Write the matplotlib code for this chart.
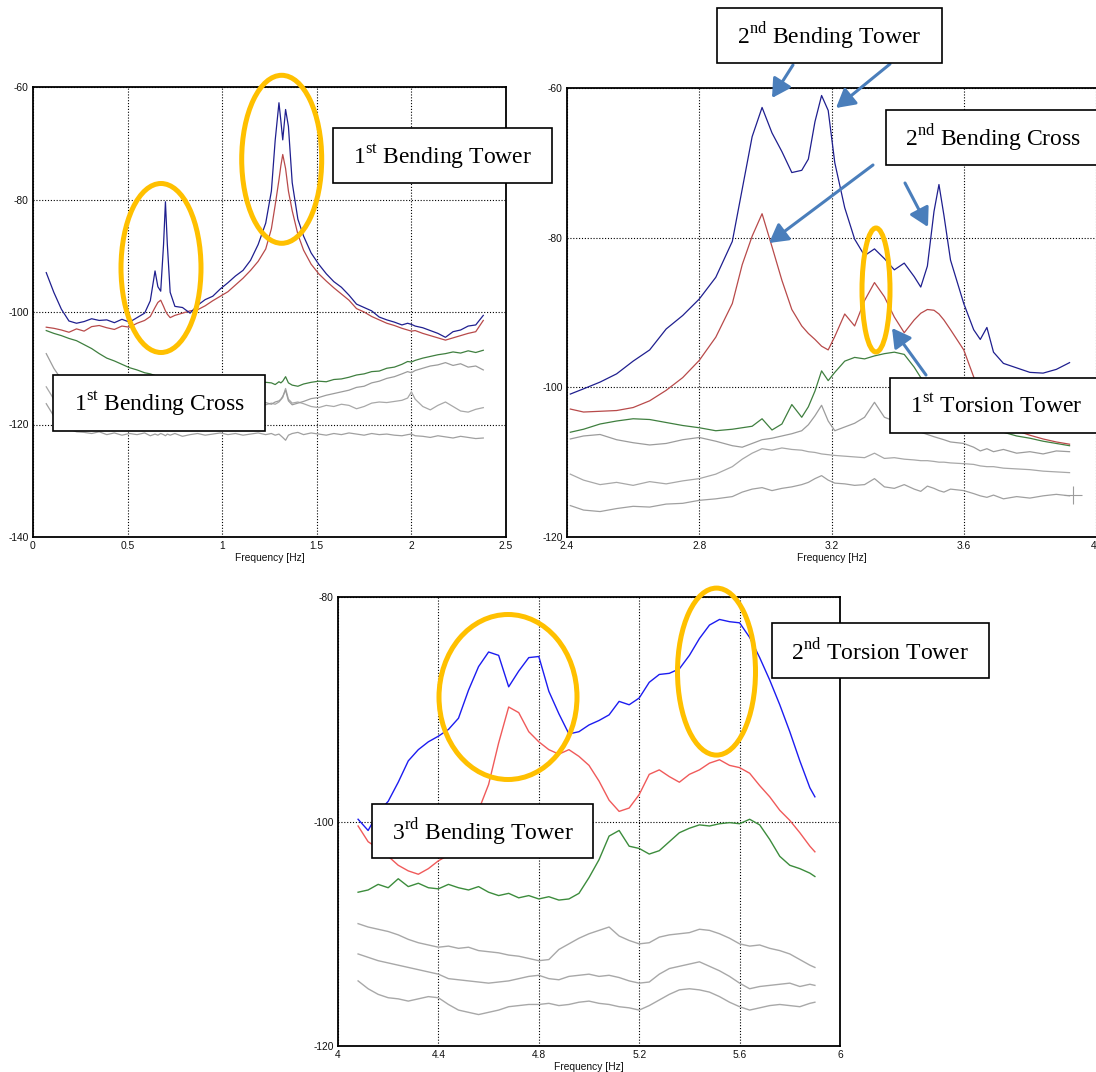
import matplotlib
matplotlib.use("Agg")
import matplotlib.pyplot as plt
from matplotlib.patches import Ellipse, Rectangle, FancyArrowPatch

plt.rcParams['font.family'] = ['Liberation Sans', 'DejaVu Sans']
plt.rcParams['mathtext.fontset'] = 'custom'
plt.rcParams['mathtext.rm'] = 'Liberation Serif'

# ---------------- panel 1 : 0 - 2.5 Hz ----------------
x1 = [0.07, 0.11, 0.15, 0.19, 0.23, 0.27, 0.31, 0.35, 0.39, 0.43,
      0.47, 0.51, 0.55, 0.59, 0.62, 0.645, 0.66, 0.675, 0.69, 0.70,
      0.71, 0.725, 0.75, 0.79, 0.83, 0.87, 0.91, 0.95, 0.99, 1.03,
      1.07, 1.11, 1.15, 1.19, 1.23, 1.26, 1.28, 1.30, 1.31, 1.32,
      1.335, 1.35, 1.37, 1.40, 1.43, 1.47, 1.51, 1.55, 1.59, 1.63,
      1.67, 1.71, 1.75, 1.79, 1.83, 1.87, 1.91, 1.95, 1.98, 2.00,
      2.02, 2.06, 2.10, 2.14, 2.18, 2.22, 2.26, 2.30, 2.34, 2.38]
blue1 = [-93.0, -96.5, -99.5, -101.6, -102.0, -101.7, -101.2, -101.5, -101.4, -101.9,
         -101.3, -101.8, -101.0, -100.2, -98.0, -92.7, -95.5, -96.3, -88.0, -80.4,
         -88.0, -96.5, -99.0, -99.2, -100.2, -98.8, -97.8, -97.2, -95.9, -94.8,
         -93.6, -92.6, -90.8, -88.0, -84.2, -78.5, -69.5, -62.8, -66.0, -69.4,
         -64.0, -67.0, -77.0, -83.5, -86.5, -89.5, -91.5, -93.2, -94.6, -95.6,
         -97.0, -98.6, -99.2, -99.8, -100.9, -101.4, -101.8, -102.3, -102.0, -102.2,
         -102.5, -102.8, -103.3, -103.8, -104.5, -103.5, -103.2, -102.5, -102.3, -100.6]
red1 = [-102.7, -102.9, -103.2, -103.6, -103.0, -103.4, -102.6, -102.4, -102.8, -103.1,
        -102.5, -102.7, -102.0, -101.5, -100.8, -99.2, -98.3, -97.9, -99.0, -99.8,
        -100.4, -101.0, -100.6, -100.2, -99.8, -99.6, -98.9, -98.0, -97.2, -96.4,
        -95.2, -94.0, -92.6, -91.0, -88.8, -85.2, -81.0, -76.5, -74.0, -72.0,
        -74.5, -78.5, -82.0, -86.2, -89.0, -91.5, -93.2, -94.5, -95.7, -96.8,
        -97.9, -99.4, -100.0, -100.8, -101.4, -102.0, -102.4, -102.9, -103.2, -103.4,
        -103.3, -103.8, -104.2, -104.6, -105.0, -104.6, -104.2, -103.8, -103.5, -101.5]
green1 = [-103.3, -103.8, -104.2, -104.7, -105.1, -105.8, -106.5, -107.4, -108.2, -108.7,
          -109.3, -109.9, -110.3, -110.8, -111.0, -111.3, -111.6, -111.4, -111.8, -111.9,
          -111.7, -112.0, -112.3, -112.4, -112.6, -112.5, -112.8, -112.7, -112.9, -112.8,
          -113.0, -112.8, -113.1, -112.7, -112.5, -112.6, -112.9, -112.4, -112.6, -112.3,
          -111.5, -112.6, -113.0, -113.2, -112.8, -112.5, -112.3, -112.4, -112.0, -111.9,
          -111.6, -111.2, -111.0, -110.6, -110.5, -110.0, -109.8, -109.3, -108.8, -108.9,
          -108.6, -108.2, -107.9, -107.6, -107.4, -107.1, -107.3, -106.9, -107.2, -106.8]
grey1a = [-107.4, -110.0, -112.0, -113.2, -113.8, -114.3, -114.8, -115.0, -115.3, -115.5,
          -115.8, -116.0, -116.2, -116.1, -116.3, -116.2, -116.4, -116.0, -116.3, -116.5,
          -116.2, -116.4, -116.6, -116.3, -116.5, -116.2, -116.4, -116.1, -116.3, -116.5,
          -116.2, -116.0, -116.3, -115.9, -116.1, -116.4, -116.0, -115.8, -115.5, -115.0,
          -113.9, -115.8, -116.5, -116.2, -115.9, -115.4, -115.2, -114.8, -114.5, -114.2,
          -113.9, -113.4, -113.2, -112.6, -112.3, -111.8, -111.5, -111.0, -110.6, -110.8,
          -110.4, -110.0, -109.6, -109.4, -109.0, -109.5, -109.2, -109.8, -109.6, -110.3]
grey1b = [-113.3, -115.5, -116.5, -116.8, -117.0, -116.7, -116.9, -117.1, -116.8, -117.0,
          -116.9, -117.2, -116.8, -117.0, -116.9, -117.1, -116.8, -116.9, -117.0, -116.8,
          -117.1, -116.9, -117.0, -116.8, -117.0, -116.7, -116.9, -116.6, -116.8, -116.5,
          -116.7, -116.4, -116.6, -116.3, -116.5, -116.2, -116.4, -116.0, -115.6, -115.2,
          -113.6, -115.5, -116.2, -116.0, -116.3, -116.8, -117.0, -116.6, -116.8, -116.4,
          -116.6, -117.2, -116.8, -116.2, -116.0, -116.1, -115.9, -115.7, -115.3, -114.2,
          -115.5, -116.8, -117.4, -116.6, -116.0, -116.8, -117.6, -117.8, -117.3, -117.0]
grey1c = [-116.3, -118.5, -119.9, -120.8, -121.3, -121.4, -121.6, -121.3, -121.8, -121.5,
          -121.9, -121.6, -121.8, -121.5, -122.0, -121.7, -121.9, -121.6, -121.8, -122.0,
          -121.7, -121.9, -121.6, -122.1, -121.8, -121.6, -121.9, -121.7, -121.5, -121.8,
          -121.6, -121.9, -121.7, -121.5, -121.8, -121.6, -121.9, -121.7, -122.0, -122.3,
          -122.8, -121.9, -121.6, -121.4, -121.8, -121.5, -121.7, -121.9, -121.6, -121.8,
          -121.5, -121.7, -121.9, -121.6, -121.8, -121.7, -121.9, -122.0, -121.8, -121.7,
          -122.0, -122.1, -122.3, -122.0, -122.2, -122.4, -122.1, -122.3, -122.5, -122.4]

# ---------------- panel 2 : 2.4 - 4 Hz ----------------
x2 = [2.41, 2.45, 2.50, 2.55, 2.60, 2.65, 2.70, 2.75, 2.80, 2.85,
      2.90, 2.93, 2.96, 2.99, 3.02, 3.05, 3.08, 3.11, 3.13, 3.15,
      3.17, 3.19, 3.21, 3.24, 3.27, 3.30, 3.33, 3.36, 3.39, 3.42,
      3.45, 3.47, 3.49, 3.51, 3.525, 3.54, 3.56, 3.60, 3.63, 3.65,
      3.67, 3.69, 3.72, 3.76, 3.80, 3.84, 3.88, 3.92]
blue2 = [-100.9, -100.2, -99.3, -98.2, -96.5, -95.0, -92.2, -90.4, -88.2, -85.3,
         -80.5, -73.5, -66.5, -62.6, -66.0, -68.5, -71.3, -71.0, -69.5, -64.5,
         -61.0, -63.0, -70.0, -76.0, -80.2, -82.4, -81.5, -82.8, -84.3, -83.4,
         -85.2, -86.6, -83.8, -76.5, -72.9, -77.0, -83.0, -88.8, -92.3, -93.6,
         -92.0, -95.3, -96.8, -97.4, -98.0, -98.1, -97.6, -96.7]
red2 = [-102.9, -103.3, -103.2, -103.1, -102.7, -101.8, -100.4, -98.7, -96.4, -93.3,
        -88.8, -83.6, -79.8, -76.8, -81.2, -85.7, -89.6, -91.8, -92.8, -93.6,
        -94.5, -95.0, -93.2, -90.2, -91.8, -88.4, -86.0, -87.9, -90.6, -92.7,
        -91.0, -90.1, -89.6, -89.7, -90.2, -91.0, -92.3, -95.0, -98.6, -101.0,
        -102.8, -104.0, -105.0, -105.8, -106.4, -106.9, -107.3, -107.6]
green2 = [-106.0, -105.6, -104.9, -104.5, -104.2, -104.3, -104.7, -105.1, -105.4, -105.8,
          -105.6, -105.4, -105.2, -104.2, -105.7, -104.9, -102.3, -104.0, -102.6, -100.5,
          -97.8, -99.1, -98.0, -96.5, -96.0, -96.2, -95.8, -95.5, -95.3, -95.6,
          -97.3, -98.7, -99.5, -100.5, -101.0, -101.5, -102.0, -103.0, -104.0, -104.5,
          -105.0, -105.5, -106.0, -106.5, -106.8, -107.2, -107.5, -107.8]
grey2a = [-106.9, -106.5, -106.3, -107.0, -107.4, -107.7, -107.5, -107.0, -106.7, -107.2,
          -107.8, -108.0, -107.5, -107.0, -106.8, -106.5, -106.2, -105.8, -105.0, -103.8,
          -102.4, -104.5, -105.8, -105.3, -104.8, -104.0, -102.0, -104.0, -104.5, -105.0,
          -105.5, -106.0, -106.3, -106.6, -106.8, -107.0, -107.3, -107.5, -108.0, -108.5,
          -108.2, -108.6, -108.3, -108.8, -108.6, -108.9, -108.5, -108.6]
grey2b = [-111.6, -112.4, -113.0, -112.7, -113.1, -112.6, -112.9, -112.5, -112.2, -111.6,
          -110.6, -109.6, -108.8, -108.2, -108.4, -108.1, -108.3, -108.4, -108.6, -108.7,
          -108.9, -109.0, -109.1, -109.2, -109.3, -109.4, -108.8, -109.5, -109.4, -109.6,
          -109.7, -109.8, -109.8, -109.9, -110.0, -110.0, -110.1, -110.2, -110.3, -110.5,
          -110.6, -110.6, -110.8, -110.9, -111.0, -111.2, -111.3, -111.4]
grey2c = [-115.8, -116.4, -116.6, -116.2, -115.9, -116.0, -115.6, -115.5, -115.1, -114.9,
          -114.6, -114.0, -113.6, -113.4, -113.8, -113.5, -113.3, -113.0, -112.7, -112.2,
          -111.8, -112.4, -112.8, -112.9, -113.1, -113.0, -112.2, -113.3, -113.5, -113.0,
          -113.6, -113.9, -113.2, -113.5, -113.8, -114.0, -113.6, -113.8, -114.2, -114.5,
          -114.7, -114.4, -114.9, -114.6, -114.8, -114.5, -114.3, -114.5]
cursor2 = (3.93, -114.4)

# ---------------- panel 3 : 4 - 6 Hz ----------------
x3 = [4.08, 4.12, 4.16, 4.20, 4.24, 4.28, 4.32, 4.36, 4.40, 4.44,
      4.48, 4.52, 4.56, 4.60, 4.64, 4.68, 4.72, 4.76, 4.80, 4.84,
      4.88, 4.92, 4.96, 5.00, 5.04, 5.08, 5.12, 5.16, 5.20, 5.24,
      5.28, 5.32, 5.36, 5.40, 5.44, 5.48, 5.52, 5.56, 5.60, 5.64,
      5.68, 5.72, 5.76, 5.80, 5.84, 5.88, 5.90]
blue3 = [-99.8, -100.8, -99.2, -98.2, -96.5, -94.6, -93.6, -92.9, -92.4, -91.8,
         -90.8, -88.3, -86.2, -84.9, -85.2, -88.0, -86.6, -85.4, -85.3, -88.4,
         -90.4, -92.2, -92.0, -91.4, -91.0, -90.5, -89.3, -89.6, -89.0, -87.6,
         -86.9, -86.8, -86.4, -85.2, -83.7, -82.5, -82.0, -82.2, -82.3, -83.6,
         -85.4, -87.4, -89.6, -92.0, -94.6, -97.0, -97.8]
red3 = [-100.4, -101.8, -102.4, -103.1, -103.9, -104.4, -104.7, -104.2, -103.5, -103.0,
        -102.2, -100.8, -99.0, -96.7, -93.0, -89.8, -90.3, -92.0, -92.9, -93.6,
        -94.0, -93.6, -94.2, -95.0, -96.4, -98.1, -99.1, -98.8, -97.6, -95.8,
        -95.4, -96.0, -96.5, -95.8, -95.4, -94.8, -94.5, -95.0, -95.2, -95.7,
        -96.8, -97.8, -99.0, -99.9, -101.0, -102.2, -102.7]
green3 = [-106.3, -106.1, -105.6, -105.9, -105.1, -105.8, -105.5, -105.9, -106.0, -105.6,
          -105.9, -106.1, -105.8, -106.3, -106.6, -106.4, -106.8, -106.6, -106.9, -106.7,
          -107.0, -106.9, -106.4, -105.0, -103.4, -101.3, -100.8, -102.2, -102.4, -102.9,
          -102.6, -101.8, -101.0, -100.6, -100.3, -100.4, -100.2, -100.1, -100.2, -99.8,
          -100.3, -101.6, -103.1, -103.9, -104.2, -104.6, -104.9]
grey3a = [-109.1, -109.4, -109.6, -109.8, -110.1, -110.5, -110.8, -111.0, -111.2, -111.1,
          -111.3, -111.2, -111.5, -111.6, -111.7, -111.9, -112.0, -112.2, -112.4, -112.3,
          -111.4, -110.9, -110.4, -110.0, -109.7, -109.4, -110.2, -110.6, -110.9, -110.8,
          -110.3, -110.1, -110.0, -109.9, -109.6, -109.7, -110.0, -110.4, -110.9, -111.1,
          -111.0, -111.3, -111.5, -111.8, -112.3, -112.8, -113.0]
grey3b = [-111.8, -112.1, -112.4, -112.6, -112.8, -113.0, -113.2, -113.4, -113.6, -114.0,
          -114.1, -114.2, -114.3, -114.4, -114.3, -114.2, -114.0, -113.8, -113.7, -114.0,
          -114.1, -113.8, -113.7, -113.6, -113.8, -113.7, -113.9, -114.2, -114.4, -114.3,
          -113.6, -113.1, -112.9, -112.7, -112.5, -112.9, -113.3, -113.8, -114.4, -114.9,
          -114.7, -114.6, -114.5, -114.4, -114.7, -114.5, -114.6]
grey3c = [-114.2, -114.9, -115.4, -115.7, -115.8, -116.0, -115.8, -115.6, -115.7, -116.3,
          -116.8, -117.0, -117.2, -117.0, -116.8, -116.5, -116.4, -116.3, -116.3, -116.2,
          -116.4, -116.3, -116.1, -116.0, -116.2, -116.3, -116.5, -116.6, -116.8, -116.4,
          -115.9, -115.4, -115.0, -114.9, -115.0, -115.2, -115.6, -116.1, -116.5, -116.8,
          -116.6, -116.4, -116.3, -116.4, -116.5, -116.2, -116.1]

# tick labels
xt1 = [0, 0.5, 1, 1.5, 2, 2.5]
xt1_lab = ["0", "0.5", "1", "1.5", "2", "2.5"]
yt1 = [-140, -120, -100, -80, -60]
xt2 = [2.4, 2.8, 3.2, 3.6, 4.0]
xt2_lab = ["2.4", "2.8", "3.2", "3.6", "4"]
yt2 = [-120, -100, -80, -60]
xt3 = [4, 4.4, 4.8, 5.2, 5.6, 6]
xt3_lab = ["4", "4.4", "4.8", "5.2", "5.6", "6"]
yt3 = [-120, -100, -80]

W, H = 1096, 1072
fig = plt.figure(figsize=(W / 100, H / 100), dpi=100)


def panel(px_left, px_top, px_right, px_bottom):
    return fig.add_axes([px_left / W, 1 - px_bottom / H,
                         (px_right - px_left) / W, (px_bottom - px_top) / H])


def style(ax, xt, xlab, yt, xlim, ylim):
    ax.set_xlim(*xlim)
    ax.set_ylim(*ylim)
    ax.set_xticks(xt)
    ax.set_xticklabels(xlab)
    ax.set_yticks(yt)
    ax.set_yticklabels([str(v) for v in yt])
    ax.grid(True, color='black', linestyle=(0, (1, 1.6)), linewidth=0.8)
    ax.set_axisbelow(True)
    ax.tick_params(length=0, labelsize=7.4, pad=3, colors='#111111')
    for sp in ax.spines.values():
        sp.set_linewidth(1.3)
    ax.set_xlabel("Frequency [Hz]", fontsize=7.4, labelpad=1, color='#111111')


top_cols = ['#1f1f8f', '#b84a4a', '#3f7f3f', '#9c9c9c', '#a8a8a8', '#a0a0a0']
bot_cols = ['#1c1cf0', '#f05a5a', '#3c8c3c', '#a8a8a8', '#a8a8a8', '#a8a8a8']

ax1 = panel(33, 87, 506, 537)
for y, c in zip([grey1c, grey1b, grey1a, green1, red1, blue1], top_cols[::-1]):
    ax1.plot(x1, y, color=c, lw=0.9)
style(ax1, xt1, xt1_lab, yt1, (0, 2.5), (-140, -60))

ax2 = panel(567, 88, 1096, 537)
for y, c in zip([grey2c, grey2b, grey2a, green2, red2, blue2], top_cols[::-1]):
    ax2.plot(x2, y, color=c, lw=0.9)
ax2.plot(*cursor2, marker='+', ms=13, mew=0.8, color='#9c9c9c')
style(ax2, xt2, xt2_lab, yt2, (2.4, 4.0), (-120, -60))
ax2.spines['right'].set_visible(False)
ax2.get_xticklabels()[-1].set_horizontalalignment('right')

ax3 = panel(338, 597, 840, 1046)
for y, c in zip([grey3c, grey3b, grey3a, green3, red3, blue3], bot_cols[::-1]):
    ax3.plot(x3, y, color=c, lw=1.0)
style(ax3, xt3, xt3_lab, yt3, (4, 6), (-120, -80))

# annotation layer in pixel coordinates
ov = fig.add_axes([0, 0, 1, 1], zorder=10)
ov.set_xlim(0, W)
ov.set_ylim(H, 0)
ov.axis('off')
ov.patch.set_alpha(0)

orange = '#ffc000'
ellipses = [(161, 268, 80, 169), (281.7, 159.3, 80, 168), (876, 290, 28, 124),
            (508, 697, 138, 165), (716.5, 671.6, 78, 167)]
for cx, cy, w, h in ellipses:
    ov.add_patch(Ellipse((cx, cy), w, h, fill=False, edgecolor=orange, lw=3.6))

arrow_col = '#4a7ebb'
arrows = [((793, 65), (772, 98)), ((890, 64), (836, 108)), ((873, 165), (769, 243)),
          ((905, 183), (928, 227)), ((926, 375), (892, 328))]
for a, b in arrows:
    ov.add_patch(FancyArrowPatch(a, b, arrowstyle='-|>,head_length=0.8,head_width=0.45',
                                 mutation_scale=14, lw=2.2, color=arrow_col,
                                 shrinkA=0, shrinkB=0))

boxes = [(717, 8, 942, 63, r"2$^{\mathrm{nd}}$ Bending Tower"),
         (333, 128, 552, 183, r"1$^{\mathrm{st}}$ Bending Tower"),
         (886, 110, 1101, 165, r"2$^{\mathrm{nd}}$ Bending Cross"),
         (53, 375, 265, 431, r"1$^{\mathrm{st}}$ Bending Cross"),
         (890, 378, 1103, 433, r"1$^{\mathrm{st}}$ Torsion Tower"),
         (772, 623, 989, 678, r"2$^{\mathrm{nd}}$ Torsion Tower"),
         (372, 804, 593, 858, r"3$^{\mathrm{rd}}$ Bending Tower")]
for x0, y0, x1_, y1_, label in boxes:
    ov.add_patch(Rectangle((x0, y0), x1_ - x0, y1_ - y0, facecolor='white',
                           edgecolor='black', lw=1.2))
    ov.text((x0 + x1_) / 2, (y0 + y1_) / 2 + 1, label, ha='center', va='center',
            fontsize=17, family='Liberation Serif', color='black')

fig.savefig("out.png", dpi=100)
